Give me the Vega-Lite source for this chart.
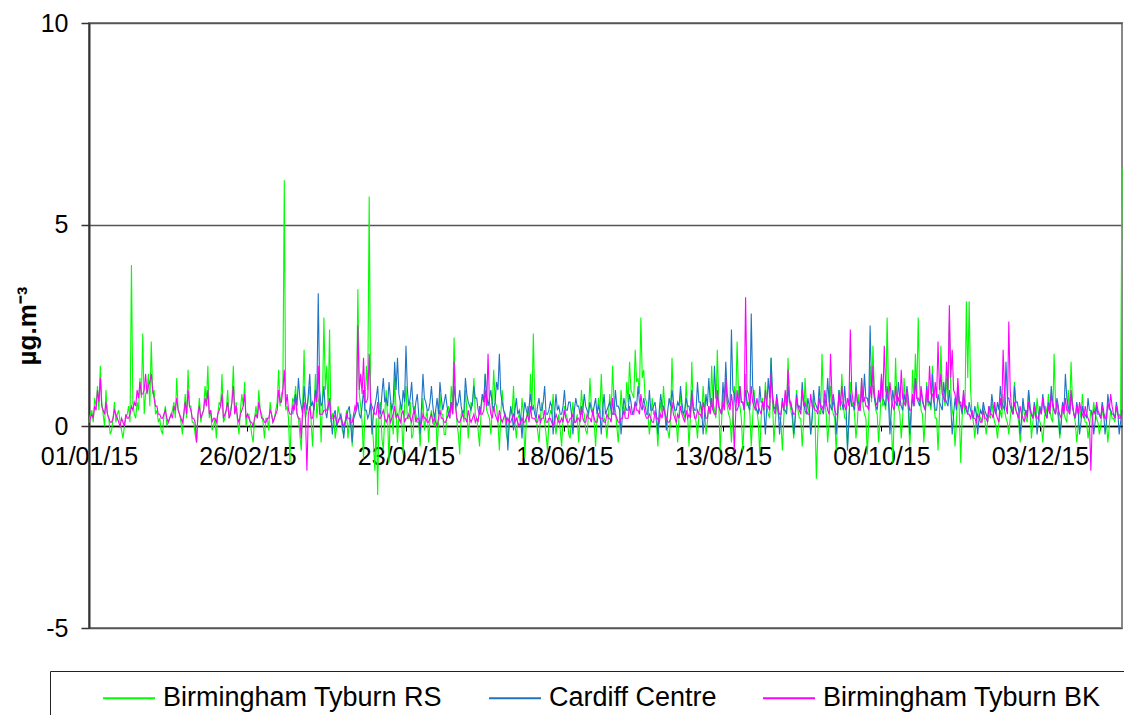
{
"$schema":"https://vega.github.io/schema/vega-lite/v6.json",
"width":1033,"height":605,
"autosize":"none",
"padding":{"left":89,"top":23,"right":2,"bottom":87},
"background":"white",
"config":{"view":{"stroke":"#888888","strokeWidth":2},"font":"Liberation Sans"},
"data":{"values":[
{"t":"2015-01-01","g":0.1,"p":0.1},{"t":"2015-01-02","g":0.4,"p":0.3},{"t":"2015-01-03","g":0.7,"p":0.5},{"t":"2015-01-04","g":1.0,"p":0.9},{"t":"2015-01-05","g":1.5,"p":1.2},{"t":"2015-01-06","g":0.3,"p":0.4},{"t":"2015-01-07","g":0.9,"p":0.6},{"t":"2015-01-08","g":0.2,"p":0.2},{"t":"2015-01-09","g":-0.1,"p":0.1},{"t":"2015-01-10","g":0.6,"p":0.4},{"t":"2015-01-11","g":0.3,"p":0.2},{"t":"2015-01-12","g":0.1,"p":0.0},{"t":"2015-01-13","g":-0.3,"p":0.1},{"t":"2015-01-14","g":0.2,"p":0.3},{"t":"2015-01-15","g":0.5,"p":0.2},{"t":"2015-01-16","g":4.0,"p":0.5},{"t":"2015-01-17","g":0.3,"p":0.6},{"t":"2015-01-18","g":0.6,"p":0.9},{"t":"2015-01-19","g":1.2,"p":1.1},{"t":"2015-01-20","g":2.3,"p":0.8},{"t":"2015-01-21","g":0.8,"p":1.3},{"t":"2015-01-22","g":1.3,"p":1.0},{"t":"2015-01-23","g":2.1,"p":1.3},{"t":"2015-01-24","g":0.9,"p":0.7},{"t":"2015-01-25","g":0.4,"p":0.5},{"t":"2015-01-26","g":0.2,"p":0.3},{"t":"2015-01-27","g":-0.2,"p":0.2},{"t":"2015-01-28","g":0.5,"p":0.4},{"t":"2015-01-29","g":0.1,"p":0.1},{"t":"2015-01-30","g":0.3,"p":0.3},{"t":"2015-01-31","g":0.6,"p":0.5},
{"t":"2015-02-01","g":1.2,"p":0.7},{"t":"2015-02-02","g":0.3,"p":0.3},{"t":"2015-02-03","g":-0.2,"p":0.1},{"t":"2015-02-04","g":0.8,"p":0.6},{"t":"2015-02-05","g":1.4,"p":0.9},{"t":"2015-02-06","g":0.5,"p":0.4},{"t":"2015-02-07","g":0.1,"p":0.2},{"t":"2015-02-08","g":-0.4,"p":-0.4},{"t":"2015-02-09","g":0.7,"p":0.5},{"t":"2015-02-10","g":0.3,"p":0.3},{"t":"2015-02-11","g":1.0,"p":0.7},{"t":"2015-02-12","g":1.5,"p":0.9},{"t":"2015-02-13","g":0.4,"p":0.4},{"t":"2015-02-14","g":0.0,"p":0.2},{"t":"2015-02-15","g":-0.3,"p":0.1},{"t":"2015-02-16","g":0.6,"p":0.4},{"t":"2015-02-17","g":1.3,"p":0.8},{"t":"2015-02-18","g":0.2,"p":0.3},{"t":"2015-02-19","g":0.9,"p":0.6},{"t":"2015-02-20","g":0.4,"p":0.3},{"t":"2015-02-21","g":1.5,"p":1.0},{"t":"2015-02-22","g":0.6,"p":0.5},{"t":"2015-02-23","g":-0.2,"p":0.1},{"t":"2015-02-24","g":0.8,"p":0.4},{"t":"2015-02-25","g":1.1,"p":0.8},{"t":"2015-02-26","g":0.3,"p":0.3},{"t":"2015-02-27","g":0.1,"p":0.1},{"t":"2015-02-28","g":-0.4,"p":0.0},
{"t":"2015-03-01","g":0.5,"p":0.3},{"t":"2015-03-02","g":0.9,"p":0.6},{"t":"2015-03-03","g":0.3,"p":0.2},{"t":"2015-03-04","g":-0.3,"p":0.1},{"t":"2015-03-05","g":0.2,"p":0.2},{"t":"2015-03-06","g":0.6,"p":0.4},{"t":"2015-03-07","g":0.1,"p":0.1},{"t":"2015-03-08","g":0.4,"p":0.3},{"t":"2015-03-09","g":1.4,"p":0.9},{"t":"2015-03-10","g":0.8,"p":0.6},{"t":"2015-03-11","g":6.1,"p":1.4},{"t":"2015-03-12","g":0.5,"p":0.8},{"t":"2015-03-13","g":-0.9,"p":0.3},{"t":"2015-03-14","g":0.7,"b":0.3,"p":0.5},{"t":"2015-03-15","g":1.0,"b":0.8,"p":0.7},{"t":"2015-03-16","g":0.2,"b":1.2,"p":0.2},{"t":"2015-03-17","g":-0.6,"b":0.5,"p":-0.3},{"t":"2015-03-18","g":1.9,"b":1.0,"p":0.6},{"t":"2015-03-19","g":0.4,"b":0.4,"p":-1.1},{"t":"2015-03-20","g":1.0,"b":1.3,"p":0.5},{"t":"2015-03-21","g":-0.5,"b":0.6,"p":0.2},{"t":"2015-03-22","g":1.3,"b":0.9,"p":0.8},{"t":"2015-03-23","g":0.6,"b":3.3,"p":1.5},{"t":"2015-03-24","g":-0.4,"b":0.5,"p":0.3},{"t":"2015-03-25","g":2.7,"b":1.0,"p":0.4},{"t":"2015-03-26","g":1.5,"b":0.2,"p":0.4},{"t":"2015-03-27","g":2.4,"b":0.6,"p":0.7},{"t":"2015-03-28","g":0.3,"b":-0.2,"p":0.2},{"t":"2015-03-29","g":-0.3,"b":0.4,"p":0.3},{"t":"2015-03-30","g":0.5,"b":0.1,"p":0.1},{"t":"2015-03-31","g":0.2,"b":0.3,"p":0.2},
{"t":"2015-04-01","g":-0.2,"b":-0.3,"p":0.0},{"t":"2015-04-02","g":0.4,"b":0.2,"p":0.3},{"t":"2015-04-03","g":0.1,"b":0.5,"p":0.2},{"t":"2015-04-04","g":-0.5,"b":-0.4,"p":0.1},{"t":"2015-04-05","g":0.3,"b":0.3,"p":0.5},{"t":"2015-04-06","g":3.4,"b":0.6,"p":2.5},{"t":"2015-04-07","g":0.5,"b":0.2,"p":1.3},{"t":"2015-04-08","g":-0.8,"b":0.9,"p":1.7},{"t":"2015-04-09","g":1.5,"b":0.4,"p":0.6},{"t":"2015-04-10","g":5.7,"b":0.3,"p":1.8},{"t":"2015-04-11","g":0.2,"b":-0.2,"p":0.5},{"t":"2015-04-12","g":-1.1,"b":0.5,"p":0.3},{"t":"2015-04-13","g":-1.7,"b":1.0,"p":0.6},{"t":"2015-04-14","g":0.6,"b":0.3,"p":0.2},{"t":"2015-04-15","g":-0.6,"b":1.2,"p":0.4},{"t":"2015-04-16","g":0.9,"b":0.7,"p":0.1},{"t":"2015-04-17","g":-0.9,"b":1.1,"p":0.3},{"t":"2015-04-18","g":0.3,"b":0.4,"p":0.2},{"t":"2015-04-19","g":1.2,"b":1.6,"p":0.5},{"t":"2015-04-20","g":-0.4,"b":1.7,"p":0.3},{"t":"2015-04-21","g":0.6,"b":0.6,"p":0.1},{"t":"2015-04-22","g":-0.7,"b":0.9,"p":0.4},{"t":"2015-04-23","g":1.0,"b":2.0,"p":0.2},{"t":"2015-04-24","g":0.2,"b":0.5,"p":0.3},{"t":"2015-04-25","g":-0.3,"b":1.1,"p":0.1},{"t":"2015-04-26","g":0.5,"b":0.3,"p":0.4},{"t":"2015-04-27","g":0.1,"b":0.8,"p":0.2},{"t":"2015-04-28","g":-0.5,"b":-0.2,"p":0.0},{"t":"2015-04-29","g":0.7,"b":1.3,"p":0.3},{"t":"2015-04-30","g":0.2,"b":0.6,"p":0.2},
{"t":"2015-05-01","g":-0.4,"b":0.4,"p":0.1},{"t":"2015-05-02","g":0.4,"b":1.0,"p":0.3},{"t":"2015-05-03","g":0.0,"b":0.2,"p":0.2},{"t":"2015-05-04","g":-0.6,"b":0.7,"p":0.0},{"t":"2015-05-05","g":0.8,"b":1.1,"p":0.4},{"t":"2015-05-06","g":0.3,"b":0.4,"p":0.2},{"t":"2015-05-07","g":-0.2,"b":0.8,"p":0.1},{"t":"2015-05-08","g":0.5,"b":0.3,"p":0.3},{"t":"2015-05-09","g":1.0,"b":0.6,"p":0.6},{"t":"2015-05-10","g":2.2,"b":1.0,"p":1.6},{"t":"2015-05-11","g":0.1,"b":0.5,"p":0.2},{"t":"2015-05-12","g":-0.7,"b":0.9,"p":0.1},{"t":"2015-05-13","g":0.4,"b":0.3,"p":0.3},{"t":"2015-05-14","g":0.9,"b":1.2,"p":0.2},{"t":"2015-05-15","g":-0.3,"b":0.6,"p":0.4},{"t":"2015-05-16","g":0.6,"b":0.4,"p":0.1},{"t":"2015-05-17","g":1.2,"b":1.0,"p":0.3},{"t":"2015-05-18","g":0.2,"b":0.7,"p":0.2},{"t":"2015-05-19","g":-0.5,"b":0.3,"p":0.5},{"t":"2015-05-20","g":0.8,"b":0.8,"p":0.3},{"t":"2015-05-21","g":1.3,"b":1.3,"p":0.9},{"t":"2015-05-22","g":0.3,"b":0.5,"p":1.8},{"t":"2015-05-23","g":-0.2,"b":0.9,"p":0.3},{"t":"2015-05-24","g":1.4,"b":0.4,"p":0.5},{"t":"2015-05-25","g":0.5,"b":1.1,"p":0.2},{"t":"2015-05-26","g":-0.6,"b":1.8,"p":0.4},{"t":"2015-05-27","g":0.9,"b":0.6,"p":0.1},{"t":"2015-05-28","g":0.2,"b":0.3,"p":0.3},{"t":"2015-05-29","g":-0.4,"b":-0.6,"p":0.2},{"t":"2015-05-30","g":0.4,"b":0.5,"p":0.1},{"t":"2015-05-31","g":1.0,"b":-0.1,"p":0.3},
{"t":"2015-06-01","g":-0.3,"b":0.7,"p":0.2},{"t":"2015-06-02","g":0.3,"b":0.4,"p":0.0},{"t":"2015-06-03","g":0.7,"b":-0.3,"p":0.2},{"t":"2015-06-04","g":-0.8,"b":0.6,"p":0.1},{"t":"2015-06-05","g":0.5,"b":0.3,"p":0.3},{"t":"2015-06-06","g":1.3,"b":0.8,"p":0.5},{"t":"2015-06-07","g":2.3,"b":0.5,"p":0.2},{"t":"2015-06-08","g":0.2,"b":0.2,"p":0.1},{"t":"2015-06-09","g":-0.4,"b":0.7,"p":0.3},{"t":"2015-06-10","g":0.6,"b":0.4,"p":0.2},{"t":"2015-06-11","g":0.1,"b":1.0,"p":0.4},{"t":"2015-06-12","g":-0.6,"b":0.3,"p":0.1},{"t":"2015-06-13","g":0.4,"b":0.6,"p":0.2},{"t":"2015-06-14","g":0.8,"b":-0.2,"p":0.0},{"t":"2015-06-15","g":-0.2,"b":0.8,"p":0.3},{"t":"2015-06-16","g":0.3,"b":0.5,"p":0.1},{"t":"2015-06-17","g":-0.5,"b":0.3,"p":0.2},{"t":"2015-06-18","g":0.5,"b":0.9,"p":0.4},{"t":"2015-06-19","g":0.2,"b":0.4,"p":0.1},{"t":"2015-06-20","g":-0.3,"b":0.6,"p":0.2},{"t":"2015-06-21","g":0.6,"b":-0.2,"p":0.3},{"t":"2015-06-22","g":0.1,"b":0.7,"p":0.1},{"t":"2015-06-23","g":-0.4,"b":0.5,"p":0.2},{"t":"2015-06-24","g":0.9,"b":0.3,"p":0.5},{"t":"2015-06-25","g":0.3,"b":0.8,"p":0.1},{"t":"2015-06-26","g":-0.2,"b":0.4,"p":0.3},{"t":"2015-06-27","g":1.2,"b":0.6,"p":0.2},{"t":"2015-06-28","g":0.4,"b":0.3,"p":0.4},{"t":"2015-06-29","g":-0.5,"b":0.7,"p":0.1},{"t":"2015-06-30","g":0.7,"b":0.5,"p":0.3},
{"t":"2015-07-01","g":1.3,"b":-0.2,"p":0.2},{"t":"2015-07-02","g":0.2,"b":0.8,"p":0.1},{"t":"2015-07-03","g":-0.3,"b":0.4,"p":0.3},{"t":"2015-07-04","g":0.8,"b":0.6,"p":0.2},{"t":"2015-07-05","g":1.5,"b":0.3,"p":0.7},{"t":"2015-07-06","g":0.4,"b":0.9,"p":0.3},{"t":"2015-07-07","g":-0.4,"b":0.5,"p":0.1},{"t":"2015-07-08","g":0.9,"b":-0.2,"p":0.2},{"t":"2015-07-09","g":0.5,"b":0.7,"p":0.4},{"t":"2015-07-10","g":1.1,"b":0.4,"p":0.2},{"t":"2015-07-11","g":1.6,"b":0.8,"p":0.5},{"t":"2015-07-12","g":0.8,"b":0.3,"p":0.3},{"t":"2015-07-13","g":1.9,"b":0.6,"p":0.6},{"t":"2015-07-14","g":1.2,"b":1.0,"p":0.4},{"t":"2015-07-15","g":2.7,"b":0.5,"p":0.8},{"t":"2015-07-16","g":1.4,"b":0.7,"p":0.5},{"t":"2015-07-17","g":0.6,"b":0.3,"p":0.2},{"t":"2015-07-18","g":-0.2,"b":0.9,"p":0.3},{"t":"2015-07-19","g":0.7,"b":0.4,"p":0.1},{"t":"2015-07-20","g":0.3,"b":0.6,"p":0.4},{"t":"2015-07-21","g":-0.5,"b":-0.2,"p":0.2},{"t":"2015-07-22","g":0.6,"b":0.8,"p":0.3},{"t":"2015-07-23","g":1.0,"b":0.5,"p":0.5},{"t":"2015-07-24","g":0.2,"b":-0.1,"p":0.2},{"t":"2015-07-25","g":-0.3,"b":0.7,"p":0.1},{"t":"2015-07-26","g":1.7,"b":0.9,"p":0.6},{"t":"2015-07-27","g":0.4,"b":0.4,"p":0.2},{"t":"2015-07-28","g":-0.4,"b":0.6,"p":0.3},{"t":"2015-07-29","g":0.8,"b":1.0,"p":0.5},{"t":"2015-07-30","g":0.3,"b":0.3,"p":0.2},{"t":"2015-07-31","g":1.1,"b":0.7,"p":0.4},
{"t":"2015-08-01","g":-0.5,"b":0.5,"p":0.3},{"t":"2015-08-02","g":1.6,"b":0.9,"p":0.8},{"t":"2015-08-03","g":0.3,"b":0.4,"p":0.2},{"t":"2015-08-04","g":-0.3,"b":1.1,"p":0.4},{"t":"2015-08-05","g":0.6,"b":0.6,"p":0.3},{"t":"2015-08-06","g":1.0,"b":-0.2,"p":0.6},{"t":"2015-08-07","g":-0.2,"b":0.8,"p":0.2},{"t":"2015-08-08","g":0.5,"b":1.2,"p":0.5},{"t":"2015-08-09","g":1.5,"b":0.5,"p":0.7},{"t":"2015-08-10","g":0.4,"b":1.5,"p":0.3},{"t":"2015-08-11","g":1.9,"b":0.7,"p":0.9},{"t":"2015-08-12","g":-0.6,"b":0.4,"p":0.4},{"t":"2015-08-13","g":0.8,"b":1.1,"p":0.6},{"t":"2015-08-14","g":1.2,"b":1.6,"p":1.2},{"t":"2015-08-15","g":0.3,"b":0.6,"p":0.5},{"t":"2015-08-16","g":-0.4,"b":2.4,"p":0.8},{"t":"2015-08-17","g":1.0,"b":0.8,"p":-0.6},{"t":"2015-08-18","g":2.1,"b":0.4,"p":0.9},{"t":"2015-08-19","g":0.5,"b":1.0,"p":1.0},{"t":"2015-08-20","g":-0.6,"b":0.6,"p":0.6},{"t":"2015-08-21","g":1.3,"b":0.9,"p":3.2},{"t":"2015-08-22","g":0.6,"b":0.5,"p":0.8},{"t":"2015-08-23","g":-0.5,"b":2.8,"p":1.0},{"t":"2015-08-24","g":0.9,"b":0.7,"p":0.5},{"t":"2015-08-25","g":0.4,"b":0.4,"p":0.7},{"t":"2015-08-26","g":-0.7,"b":1.0,"p":0.4},{"t":"2015-08-27","g":0.7,"b":0.6,"p":0.6},{"t":"2015-08-28","g":1.1,"b":-0.2,"p":0.9},{"t":"2015-08-29","g":0.3,"b":1.2,"p":0.5},{"t":"2015-08-30","g":1.7,"b":1.7,"p":1.3},{"t":"2015-08-31","g":-0.4,"b":0.5,"p":0.4},
{"t":"2015-09-01","g":0.6,"b":0.8,"p":0.7},{"t":"2015-09-02","g":0.2,"b":-0.2,"p":0.3},{"t":"2015-09-03","g":-0.6,"b":0.7,"p":0.6},{"t":"2015-09-04","g":0.8,"b":0.4,"p":0.9},{"t":"2015-09-05","g":1.7,"b":1.0,"p":1.4},{"t":"2015-09-06","g":0.4,"b":0.6,"p":0.5},{"t":"2015-09-07","g":-0.3,"b":-0.2,"p":0.3},{"t":"2015-09-08","g":0.9,"b":0.8,"p":0.7},{"t":"2015-09-09","g":0.2,"b":0.5,"p":0.4},{"t":"2015-09-10","g":-0.5,"b":1.1,"p":0.9},{"t":"2015-09-11","g":1.2,"b":0.4,"p":0.6},{"t":"2015-09-12","g":0.5,"b":0.7,"p":0.3},{"t":"2015-09-13","g":-0.2,"b":-0.2,"p":0.8},{"t":"2015-09-14","g":0.7,"b":0.9,"p":0.5},{"t":"2015-09-15","g":-1.3,"b":0.5,"p":0.4},{"t":"2015-09-16","g":0.4,"b":1.0,"p":0.7},{"t":"2015-09-17","g":1.8,"b":0.4,"p":0.5},{"t":"2015-09-18","g":0.6,"b":0.7,"p":0.9},{"t":"2015-09-19","g":-0.4,"b":1.2,"p":0.4},{"t":"2015-09-20","g":1.0,"b":0.5,"p":1.8},{"t":"2015-09-21","g":0.3,"b":0.8,"p":0.6},{"t":"2015-09-22","g":-0.6,"b":-0.2,"p":0.3},{"t":"2015-09-23","g":0.9,"b":0.9,"p":0.8},{"t":"2015-09-24","g":1.3,"b":0.6,"p":1.0},{"t":"2015-09-25","g":0.2,"b":1.0,"p":0.5},{"t":"2015-09-26","g":-0.5,"b":-0.6,"p":0.7},{"t":"2015-09-27","g":1.1,"b":0.8,"p":2.4},{"t":"2015-09-28","g":0.6,"b":0.5,"p":0.6},{"t":"2015-09-29","g":-0.3,"b":1.1,"p":0.9},{"t":"2015-09-30","g":0.8,"b":0.6,"p":0.4},
{"t":"2015-10-01","g":1.2,"b":0.9,"p":1.2},{"t":"2015-10-02","g":0.3,"b":1.3,"p":0.7},{"t":"2015-10-03","g":-0.7,"b":0.7,"p":0.5},{"t":"2015-10-04","g":1.5,"b":2.5,"p":1.0},{"t":"2015-10-05","g":2.0,"b":1.0,"p":1.5},{"t":"2015-10-06","g":0.4,"b":0.5,"p":0.6},{"t":"2015-10-07","g":-0.4,"b":0.8,"p":0.9},{"t":"2015-10-08","g":1.0,"b":1.2,"p":1.3},{"t":"2015-10-09","g":0.6,"b":0.6,"p":2.0},{"t":"2015-10-10","g":2.7,"b":1.0,"p":0.8},{"t":"2015-10-11","g":0.2,"b":-0.2,"p":1.1},{"t":"2015-10-12","g":-0.9,"b":0.9,"p":0.5},{"t":"2015-10-13","g":1.7,"b":0.6,"p":1.0},{"t":"2015-10-14","g":0.5,"b":1.1,"p":0.7},{"t":"2015-10-15","g":-0.3,"b":0.5,"p":1.4},{"t":"2015-10-16","g":1.2,"b":0.8,"p":0.6},{"t":"2015-10-17","g":0.7,"b":1.0,"p":0.9},{"t":"2015-10-18","g":-0.5,"b":-0.2,"p":0.4},{"t":"2015-10-19","g":1.4,"b":0.7,"p":0.8},{"t":"2015-10-20","g":1.8,"b":1.2,"p":1.2},{"t":"2015-10-21","g":2.7,"b":0.6,"p":0.7},{"t":"2015-10-22","g":0.4,"b":0.9,"p":1.0},{"t":"2015-10-23","g":-0.4,"b":0.5,"p":0.5},{"t":"2015-10-24","g":1.1,"b":1.0,"p":0.9},{"t":"2015-10-25","g":0.6,"b":0.6,"p":1.5},{"t":"2015-10-26","g":1.5,"b":1.3,"p":0.8},{"t":"2015-10-27","g":0.2,"b":0.4,"p":1.1},{"t":"2015-10-28","g":-0.6,"b":0.8,"p":2.1},{"t":"2015-10-29","g":2.0,"b":0.5,"p":1.3},{"t":"2015-10-30","g":0.8,"b":1.1,"p":0.7},{"t":"2015-10-31","g":1.2,"b":0.6,"p":1.6},
{"t":"2015-11-01","g":2.6,"b":0.9,"p":3.0},{"t":"2015-11-02","g":0.4,"b":-0.2,"p":1.9},{"t":"2015-11-03","g":-0.5,"b":0.7,"p":0.8},{"t":"2015-11-04","g":1.0,"b":1.0,"p":1.2},{"t":"2015-11-05","g":-0.9,"b":0.5,"p":0.6},{"t":"2015-11-06","g":0.7,"b":0.8,"p":0.9},{"t":"2015-11-07","g":3.1,"b":0.4,"p":0.5},{"t":"2015-11-08","g":3.1,"b":0.6,"p":0.3},{"t":"2015-11-09","g":0.3,"b":0.3,"p":0.4},{"t":"2015-11-10","g":-0.3,"b":0.5,"p":0.2},{"t":"2015-11-11","g":0.6,"b":-0.2,"p":0.3},{"t":"2015-11-12","g":0.2,"b":0.4,"p":0.1},{"t":"2015-11-13","g":0.5,"b":0.6,"p":0.4},{"t":"2015-11-14","g":-0.2,"b":0.3,"p":0.2},{"t":"2015-11-15","g":0.3,"b":0.5,"p":0.5},{"t":"2015-11-16","g":0.6,"b":0.8,"p":0.3},{"t":"2015-11-17","g":0.1,"b":0.4,"p":0.6},{"t":"2015-11-18","g":-0.3,"b":0.6,"p":0.2},{"t":"2015-11-19","g":0.4,"b":1.0,"p":0.7},{"t":"2015-11-20","g":0.8,"b":0.5,"p":1.9},{"t":"2015-11-21","g":0.2,"b":1.6,"p":0.5},{"t":"2015-11-22","g":-0.2,"b":0.7,"p":2.6},{"t":"2015-11-23","g":0.5,"b":0.4,"p":0.4},{"t":"2015-11-24","g":1.1,"b":1.0,"p":0.6},{"t":"2015-11-25","g":0.3,"b":0.6,"p":0.3},{"t":"2015-11-26","g":-0.4,"b":-0.2,"p":0.5},{"t":"2015-11-27","g":0.6,"b":0.7,"p":0.2},{"t":"2015-11-28","g":0.2,"b":0.4,"p":0.4},{"t":"2015-11-29","g":0.9,"b":0.9,"p":0.6},{"t":"2015-11-30","g":-0.3,"b":0.3,"p":0.3},
{"t":"2015-12-01","g":0.4,"b":0.6,"p":0.5},{"t":"2015-12-02","g":0.7,"b":-0.2,"p":0.2},{"t":"2015-12-03","g":0.1,"b":0.5,"p":0.4},{"t":"2015-12-04","g":-0.4,"b":0.8,"p":0.7},{"t":"2015-12-05","g":0.5,"b":0.3,"p":0.3},{"t":"2015-12-06","g":0.8,"b":0.6,"p":0.5},{"t":"2015-12-07","g":0.2,"b":1.0,"p":0.8},{"t":"2015-12-08","g":1.8,"b":0.4,"p":0.4},{"t":"2015-12-09","g":0.4,"b":0.7,"p":0.6},{"t":"2015-12-10","g":-0.3,"b":-0.2,"p":0.3},{"t":"2015-12-11","g":0.6,"b":0.6,"p":0.5},{"t":"2015-12-12","g":0.2,"b":1.3,"p":0.7},{"t":"2015-12-13","g":0.9,"b":0.5,"p":0.4},{"t":"2015-12-14","g":1.6,"b":0.8,"p":0.9},{"t":"2015-12-15","g":0.3,"b":0.3,"p":0.3},{"t":"2015-12-16","g":-0.4,"b":0.6,"p":0.5},{"t":"2015-12-17","g":0.5,"b":-0.2,"p":0.6},{"t":"2015-12-18","g":0.8,"b":0.5,"p":0.3},{"t":"2015-12-19","g":0.1,"b":0.3,"p":0.5},{"t":"2015-12-20","g":-0.3,"b":0.7,"p":0.2},{"t":"2015-12-21","g":0.4,"b":0.4,"p":-1.1},{"t":"2015-12-22","g":0.6,"b":-0.2,"p":0.4},{"t":"2015-12-23","g":0.2,"b":0.5,"p":0.6},{"t":"2015-12-24","g":-0.2,"b":0.3,"p":0.3},{"t":"2015-12-25","g":0.5,"b":0.6,"p":0.5},{"t":"2015-12-26","g":0.3,"b":-0.2,"p":0.2},{"t":"2015-12-27","g":-0.4,"b":0.8,"p":0.6},{"t":"2015-12-28","g":0.4,"b":0.4,"p":0.8},{"t":"2015-12-29","g":0.2,"b":0.3,"p":0.3},{"t":"2015-12-30","g":0.5,"b":0.6,"p":0.5},{"t":"2015-12-31","g":0.3,"b":-0.2,"p":0.2},
{"t":"2016-01-01","g":6.4,"b":0.4,"p":0.4},
{"t":"2015-01-01T12:00:00Z","g":0.3,"p":0.2},{"t":"2015-01-02T12:00:00Z","g":0.1,"p":0.2},{"t":"2015-01-03T12:00:00Z","g":0.5,"p":0.4},{"t":"2015-01-04T12:00:00Z","g":0.4,"p":0.6},{"t":"2015-01-05T12:00:00Z","g":0.6,"p":0.5},{"t":"2015-01-06T12:00:00Z","g":0.0,"p":0.3},{"t":"2015-01-07T12:00:00Z","g":0.3,"p":0.3},{"t":"2015-01-08T12:00:00Z","g":-0.2,"p":0.1},{"t":"2015-01-09T12:00:00Z","g":0.2,"p":0.2},{"t":"2015-01-10T12:00:00Z","g":0.1,"p":0.3},{"t":"2015-01-11T12:00:00Z","g":0.4,"p":0.1},{"t":"2015-01-12T12:00:00Z","g":-0.1,"p":0.2},{"t":"2015-01-13T12:00:00Z","g":0.0,"p":0.0},{"t":"2015-01-14T12:00:00Z","g":0.3,"p":0.2},{"t":"2015-01-15T12:00:00Z","g":0.1,"p":0.3},{"t":"2015-01-16T12:00:00Z","g":0.6,"p":0.4},{"t":"2015-01-17T12:00:00Z","g":0.2,"p":0.5},{"t":"2015-01-18T12:00:00Z","g":0.4,"p":0.7},{"t":"2015-01-19T12:00:00Z","g":0.7,"p":0.8},{"t":"2015-01-20T12:00:00Z","g":0.3,"p":0.9},{"t":"2015-01-21T12:00:00Z","g":0.9,"p":0.8},{"t":"2015-01-22T12:00:00Z","g":0.5,"p":1.1},{"t":"2015-01-23T12:00:00Z","g":0.8,"p":0.9},{"t":"2015-01-24T12:00:00Z","g":0.3,"p":0.5},{"t":"2015-01-25T12:00:00Z","g":0.1,"p":0.3},{"t":"2015-01-26T12:00:00Z","g":-0.1,"p":0.2},{"t":"2015-01-27T12:00:00Z","g":0.3,"p":0.3},{"t":"2015-01-28T12:00:00Z","g":0.0,"p":0.2},{"t":"2015-01-29T12:00:00Z","g":0.2,"p":0.2},{"t":"2015-01-30T12:00:00Z","g":0.4,"p":0.2},{"t":"2015-01-31T12:00:00Z","g":0.2,"p":0.4},
{"t":"2015-02-01T12:00:00Z","g":0.4,"p":0.4},{"t":"2015-02-02T12:00:00Z","g":0.1,"p":0.2},{"t":"2015-02-03T12:00:00Z","g":0.3,"p":0.3},{"t":"2015-02-04T12:00:00Z","g":0.2,"p":0.3},{"t":"2015-02-05T12:00:00Z","g":0.5,"p":0.5},{"t":"2015-02-06T12:00:00Z","g":0.1,"p":0.2},{"t":"2015-02-07T12:00:00Z","g":-0.2,"p":0.1},{"t":"2015-02-08T12:00:00Z","g":0.3,"p":0.3},{"t":"2015-02-09T12:00:00Z","g":0.1,"p":0.2},{"t":"2015-02-10T12:00:00Z","g":0.4,"p":0.4},{"t":"2015-02-11T12:00:00Z","g":0.6,"p":0.5},{"t":"2015-02-12T12:00:00Z","g":0.2,"p":0.3},{"t":"2015-02-13T12:00:00Z","g":-0.1,"p":0.1},{"t":"2015-02-14T12:00:00Z","g":0.2,"p":0.2},{"t":"2015-02-15T12:00:00Z","g":0.3,"p":0.3},{"t":"2015-02-16T12:00:00Z","g":0.5,"p":0.5},{"t":"2015-02-17T12:00:00Z","g":0.1,"p":0.2},{"t":"2015-02-18T12:00:00Z","g":0.4,"p":0.4},{"t":"2015-02-19T12:00:00Z","g":0.2,"p":0.2},{"t":"2015-02-20T12:00:00Z","g":0.6,"p":0.6},{"t":"2015-02-21T12:00:00Z","g":0.3,"p":0.3},{"t":"2015-02-22T12:00:00Z","g":0.1,"p":0.2},{"t":"2015-02-23T12:00:00Z","g":0.4,"p":0.3},{"t":"2015-02-24T12:00:00Z","g":0.5,"p":0.5},{"t":"2015-02-25T12:00:00Z","g":0.0,"p":0.2},{"t":"2015-02-26T12:00:00Z","g":0.3,"p":0.2},{"t":"2015-02-27T12:00:00Z","g":-0.2,"p":0.1},{"t":"2015-02-28T12:00:00Z","g":0.2,"p":0.2},
{"t":"2015-03-01T12:00:00Z","g":0.2,"p":0.2},{"t":"2015-03-02T12:00:00Z","g":0.4,"p":0.4},{"t":"2015-03-03T12:00:00Z","g":0.1,"p":0.2},{"t":"2015-03-04T12:00:00Z","g":0.2,"p":0.1},{"t":"2015-03-05T12:00:00Z","g":-0.1,"p":0.2},{"t":"2015-03-06T12:00:00Z","g":0.3,"p":0.3},{"t":"2015-03-07T12:00:00Z","g":0.2,"p":0.2},{"t":"2015-03-08T12:00:00Z","g":0.6,"p":0.4},{"t":"2015-03-09T12:00:00Z","g":0.5,"p":0.6},{"t":"2015-03-10T12:00:00Z","g":0.9,"p":0.9},{"t":"2015-03-11T12:00:00Z","g":0.4,"p":0.5},{"t":"2015-03-12T12:00:00Z","g":0.2,"p":0.4},{"t":"2015-03-13T12:00:00Z","g":0.3,"p":0.3},{"t":"2015-03-14T12:00:00Z","g":0.6,"b":0.6,"p":0.4},{"t":"2015-03-15T12:00:00Z","g":0.3,"b":0.5,"p":0.3},{"t":"2015-03-16T12:00:00Z","g":-0.2,"b":0.7,"p":0.2},{"t":"2015-03-17T12:00:00Z","g":0.5,"b":0.3,"p":0.4},{"t":"2015-03-18T12:00:00Z","g":0.2,"b":0.6,"p":0.2},{"t":"2015-03-19T12:00:00Z","g":0.7,"b":0.8,"p":0.3},{"t":"2015-03-20T12:00:00Z","g":0.1,"b":0.5,"p":0.2},{"t":"2015-03-21T12:00:00Z","g":0.4,"b":0.4,"p":0.5},{"t":"2015-03-22T12:00:00Z","g":0.2,"b":0.7,"p":0.6},{"t":"2015-03-23T12:00:00Z","g":0.8,"b":0.9,"p":0.3},{"t":"2015-03-24T12:00:00Z","g":0.6,"b":0.6,"p":0.3},{"t":"2015-03-25T12:00:00Z","g":0.9,"b":0.4,"p":0.4},{"t":"2015-03-26T12:00:00Z","g":0.4,"b":0.5,"p":0.5},{"t":"2015-03-27T12:00:00Z","g":0.1,"b":0.2,"p":0.2},{"t":"2015-03-28T12:00:00Z","g":0.2,"b":0.3,"p":0.2},{"t":"2015-03-29T12:00:00Z","g":0.0,"b":0.0,"p":0.1},{"t":"2015-03-30T12:00:00Z","g":0.3,"b":0.2,"p":0.2},{"t":"2015-03-31T12:00:00Z","g":-0.1,"b":0.1,"p":0.1},
{"t":"2015-04-01T12:00:00Z","g":0.1,"b":0.1,"p":0.1},{"t":"2015-04-02T12:00:00Z","g":-0.3,"b":0.4,"p":0.2},{"t":"2015-04-03T12:00:00Z","g":0.3,"b":0.0,"p":0.1},{"t":"2015-04-04T12:00:00Z","g":0.2,"b":0.2,"p":0.3},{"t":"2015-04-05T12:00:00Z","g":0.6,"b":0.4,"p":0.4},{"t":"2015-04-06T12:00:00Z","g":0.8,"b":0.3,"p":0.9},{"t":"2015-04-07T12:00:00Z","g":0.1,"b":0.5,"p":0.8},{"t":"2015-04-08T12:00:00Z","g":0.4,"b":0.4,"p":0.6},{"t":"2015-04-09T12:00:00Z","g":0.9,"b":0.2,"p":0.7},{"t":"2015-04-10T12:00:00Z","g":0.7,"b":0.6,"p":0.6},{"t":"2015-04-11T12:00:00Z","g":-0.4,"b":0.3,"p":0.4},{"t":"2015-04-12T12:00:00Z","g":0.2,"b":0.7,"p":0.3},{"t":"2015-04-13T12:00:00Z","g":0.5,"b":0.4,"p":0.2},{"t":"2015-04-14T12:00:00Z","g":-0.3,"b":0.8,"p":0.3},{"t":"2015-04-15T12:00:00Z","g":0.3,"b":0.6,"p":0.2},{"t":"2015-04-16T12:00:00Z","g":0.2,"b":0.5,"p":0.2},{"t":"2015-04-17T12:00:00Z","g":0.6,"b":0.7,"p":0.1},{"t":"2015-04-18T12:00:00Z","g":-0.2,"b":0.6,"p":0.3},{"t":"2015-04-19T12:00:00Z","g":0.4,"b":0.9,"p":0.2},{"t":"2015-04-20T12:00:00Z","g":0.3,"b":0.8,"p":0.2},{"t":"2015-04-21T12:00:00Z","g":0.1,"b":0.4,"p":0.3},{"t":"2015-04-22T12:00:00Z","g":0.5,"b":0.6,"p":0.1},{"t":"2015-04-23T12:00:00Z","g":0.2,"b":0.9,"p":0.2},{"t":"2015-04-24T12:00:00Z","g":0.6,"b":0.7,"p":0.2},{"t":"2015-04-25T12:00:00Z","g":-0.2,"b":0.5,"p":0.3},{"t":"2015-04-26T12:00:00Z","g":0.3,"b":0.6,"p":0.1},{"t":"2015-04-27T12:00:00Z","g":0.1,"b":0.3,"p":0.2},{"t":"2015-04-28T12:00:00Z","g":0.2,"b":0.5,"p":0.1},{"t":"2015-04-29T12:00:00Z","g":-0.1,"b":0.7,"p":0.2},{"t":"2015-04-30T12:00:00Z","g":0.4,"b":0.4,"p":0.1},
{"t":"2015-05-01T12:00:00Z","g":0.2,"b":0.6,"p":0.2},{"t":"2015-05-02T12:00:00Z","g":0.1,"b":0.5,"p":0.1},{"t":"2015-05-03T12:00:00Z","g":0.4,"b":0.4,"p":0.1},{"t":"2015-05-04T12:00:00Z","g":0.1,"b":0.3,"p":0.2},{"t":"2015-05-05T12:00:00Z","g":0.3,"b":0.7,"p":0.2},{"t":"2015-05-06T12:00:00Z","g":-0.2,"b":0.6,"p":0.1},{"t":"2015-05-07T12:00:00Z","g":0.4,"b":0.5,"p":0.2},{"t":"2015-05-08T12:00:00Z","g":0.2,"b":0.4,"p":0.2},{"t":"2015-05-09T12:00:00Z","g":0.5,"b":0.3,"p":0.3},{"t":"2015-05-10T12:00:00Z","g":0.6,"b":0.7,"p":0.5},{"t":"2015-05-11T12:00:00Z","g":-0.2,"b":0.6,"p":0.1},{"t":"2015-05-12T12:00:00Z","g":0.3,"b":0.5,"p":0.2},{"t":"2015-05-13T12:00:00Z","g":0.1,"b":0.4,"p":0.2},{"t":"2015-05-14T12:00:00Z","g":0.4,"b":0.8,"p":0.1},{"t":"2015-05-15T12:00:00Z","g":0.2,"b":0.5,"p":0.2},{"t":"2015-05-16T12:00:00Z","g":0.5,"b":0.6,"p":0.2},{"t":"2015-05-17T12:00:00Z","g":0.3,"b":0.7,"p":0.1},{"t":"2015-05-18T12:00:00Z","g":-0.1,"b":0.4,"p":0.1},{"t":"2015-05-19T12:00:00Z","g":0.3,"b":0.5,"p":0.3},{"t":"2015-05-20T12:00:00Z","g":0.6,"b":0.6,"p":0.4},{"t":"2015-05-21T12:00:00Z","g":0.4,"b":0.8,"p":0.5},{"t":"2015-05-22T12:00:00Z","g":0.2,"b":0.7,"p":0.6},{"t":"2015-05-23T12:00:00Z","g":0.5,"b":0.5,"p":0.2},{"t":"2015-05-24T12:00:00Z","g":0.6,"b":0.6,"p":0.3},{"t":"2015-05-25T12:00:00Z","g":0.1,"b":0.9,"p":0.1},{"t":"2015-05-26T12:00:00Z","g":0.3,"b":0.8,"p":0.2},{"t":"2015-05-27T12:00:00Z","g":0.4,"b":0.4,"p":0.2},{"t":"2015-05-28T12:00:00Z","g":-0.2,"b":0.2,"p":0.1},{"t":"2015-05-29T12:00:00Z","g":0.2,"b":0.1,"p":0.1},{"t":"2015-05-30T12:00:00Z","g":0.3,"b":0.3,"p":0.2},{"t":"2015-05-31T12:00:00Z","g":0.1,"b":0.4,"p":0.1},
{"t":"2015-06-01T12:00:00Z","g":0.2,"b":0.3,"p":0.1},{"t":"2015-06-02T12:00:00Z","g":0.0,"b":0.2,"p":0.1},{"t":"2015-06-03T12:00:00Z","g":0.3,"b":0.3,"p":0.1},{"t":"2015-06-04T12:00:00Z","g":0.1,"b":0.4,"p":0.2},{"t":"2015-06-05T12:00:00Z","g":0.2,"b":0.5,"p":0.1},{"t":"2015-06-06T12:00:00Z","g":0.4,"b":0.4,"p":0.2},{"t":"2015-06-07T12:00:00Z","g":0.6,"b":0.3,"p":0.2},{"t":"2015-06-08T12:00:00Z","g":-0.1,"b":0.5,"p":0.1},{"t":"2015-06-09T12:00:00Z","g":0.2,"b":0.4,"p":0.1},{"t":"2015-06-10T12:00:00Z","g":0.3,"b":0.6,"p":0.2},{"t":"2015-06-11T12:00:00Z","g":-0.2,"b":0.3,"p":0.1},{"t":"2015-06-12T12:00:00Z","g":0.1,"b":0.4,"p":0.2},{"t":"2015-06-13T12:00:00Z","g":0.3,"b":0.5,"p":0.1},{"t":"2015-06-14T12:00:00Z","g":0.2,"b":0.3,"p":0.1},{"t":"2015-06-15T12:00:00Z","g":0.1,"b":0.4,"p":0.2},{"t":"2015-06-16T12:00:00Z","g":-0.1,"b":0.3,"p":0.1},{"t":"2015-06-17T12:00:00Z","g":0.2,"b":0.5,"p":0.1},{"t":"2015-06-18T12:00:00Z","g":0.3,"b":0.4,"p":0.2},{"t":"2015-06-19T12:00:00Z","g":-0.2,"b":0.6,"p":0.1},{"t":"2015-06-20T12:00:00Z","g":0.2,"b":0.3,"p":0.2},{"t":"2015-06-21T12:00:00Z","g":0.1,"b":0.4,"p":0.1},{"t":"2015-06-22T12:00:00Z","g":0.3,"b":0.5,"p":0.2},{"t":"2015-06-23T12:00:00Z","g":0.2,"b":0.3,"p":0.1},{"t":"2015-06-24T12:00:00Z","g":0.4,"b":0.4,"p":0.2},{"t":"2015-06-25T12:00:00Z","g":-0.1,"b":0.5,"p":0.1},{"t":"2015-06-26T12:00:00Z","g":0.3,"b":0.3,"p":0.2},{"t":"2015-06-27T12:00:00Z","g":0.5,"b":0.4,"p":0.1},{"t":"2015-06-28T12:00:00Z","g":0.1,"b":0.5,"p":0.2},{"t":"2015-06-29T12:00:00Z","g":0.2,"b":0.3,"p":0.1},{"t":"2015-06-30T12:00:00Z","g":0.3,"b":0.4,"p":0.2},
{"t":"2015-07-01T12:00:00Z","g":0.5,"b":0.4,"p":0.2},{"t":"2015-07-02T12:00:00Z","g":0.1,"b":0.3,"p":0.1},{"t":"2015-07-03T12:00:00Z","g":0.2,"b":0.5,"p":0.2},{"t":"2015-07-04T12:00:00Z","g":0.3,"b":0.4,"p":0.1},{"t":"2015-07-05T12:00:00Z","g":0.6,"b":0.3,"p":0.3},{"t":"2015-07-06T12:00:00Z","g":0.0,"b":0.5,"p":0.2},{"t":"2015-07-07T12:00:00Z","g":0.2,"b":0.4,"p":0.1},{"t":"2015-07-08T12:00:00Z","g":0.4,"b":0.3,"p":0.2},{"t":"2015-07-09T12:00:00Z","g":0.3,"b":0.5,"p":0.2},{"t":"2015-07-10T12:00:00Z","g":0.6,"b":0.4,"p":0.2},{"t":"2015-07-11T12:00:00Z","g":0.9,"b":0.6,"p":0.3},{"t":"2015-07-12T12:00:00Z","g":0.7,"b":0.4,"p":0.3},{"t":"2015-07-13T12:00:00Z","g":1.1,"b":0.5,"p":0.4},{"t":"2015-07-14T12:00:00Z","g":0.8,"b":0.6,"p":0.3},{"t":"2015-07-15T12:00:00Z","g":1.2,"b":0.4,"p":0.5},{"t":"2015-07-16T12:00:00Z","g":0.7,"b":0.5,"p":0.3},{"t":"2015-07-17T12:00:00Z","g":0.3,"b":0.3,"p":0.2},{"t":"2015-07-18T12:00:00Z","g":0.2,"b":0.4,"p":0.2},{"t":"2015-07-19T12:00:00Z","g":0.3,"b":0.5,"p":0.1},{"t":"2015-07-20T12:00:00Z","g":0.1,"b":0.3,"p":0.2},{"t":"2015-07-21T12:00:00Z","g":0.2,"b":0.4,"p":0.1},{"t":"2015-07-22T12:00:00Z","g":0.3,"b":0.5,"p":0.2},{"t":"2015-07-23T12:00:00Z","g":0.4,"b":0.3,"p":0.3},{"t":"2015-07-24T12:00:00Z","g":-0.1,"b":0.4,"p":0.1},{"t":"2015-07-25T12:00:00Z","g":0.2,"b":0.5,"p":0.2},{"t":"2015-07-26T12:00:00Z","g":0.5,"b":0.6,"p":0.3},{"t":"2015-07-27T12:00:00Z","g":0.1,"b":0.4,"p":0.1},{"t":"2015-07-28T12:00:00Z","g":0.3,"b":0.5,"p":0.2},{"t":"2015-07-29T12:00:00Z","g":0.4,"b":0.6,"p":0.3},{"t":"2015-07-30T12:00:00Z","g":0.2,"b":0.4,"p":0.1},{"t":"2015-07-31T12:00:00Z","g":0.3,"b":0.5,"p":0.2},
{"t":"2015-08-01T12:00:00Z","g":0.2,"b":0.3,"p":0.2},{"t":"2015-08-02T12:00:00Z","g":0.4,"b":0.5,"p":0.4},{"t":"2015-08-03T12:00:00Z","g":0.1,"b":0.4,"p":0.2},{"t":"2015-08-04T12:00:00Z","g":0.3,"b":0.6,"p":0.3},{"t":"2015-08-05T12:00:00Z","g":0.2,"b":0.4,"p":0.2},{"t":"2015-08-06T12:00:00Z","g":0.5,"b":0.3,"p":0.4},{"t":"2015-08-07T12:00:00Z","g":0.1,"b":0.5,"p":0.2},{"t":"2015-08-08T12:00:00Z","g":0.3,"b":0.6,"p":0.3},{"t":"2015-08-09T12:00:00Z","g":0.6,"b":0.4,"p":0.4},{"t":"2015-08-10T12:00:00Z","g":0.2,"b":0.7,"p":0.3},{"t":"2015-08-11T12:00:00Z","g":0.7,"b":0.5,"p":0.5},{"t":"2015-08-12T12:00:00Z","g":0.1,"b":0.3,"p":0.3},{"t":"2015-08-13T12:00:00Z","g":0.4,"b":0.6,"p":0.4},{"t":"2015-08-14T12:00:00Z","g":0.5,"b":0.8,"p":0.6},{"t":"2015-08-15T12:00:00Z","g":0.2,"b":0.5,"p":0.4},{"t":"2015-08-16T12:00:00Z","g":0.3,"b":0.9,"p":0.5},{"t":"2015-08-17T12:00:00Z","g":0.6,"b":0.4,"p":0.3},{"t":"2015-08-18T12:00:00Z","g":0.8,"b":0.5,"p":0.5},{"t":"2015-08-19T12:00:00Z","g":0.2,"b":0.6,"p":0.6},{"t":"2015-08-20T12:00:00Z","g":0.1,"b":0.4,"p":0.4},{"t":"2015-08-21T12:00:00Z","g":0.5,"b":0.6,"p":0.9},{"t":"2015-08-22T12:00:00Z","g":0.3,"b":0.4,"p":0.5},{"t":"2015-08-23T12:00:00Z","g":0.2,"b":1.0,"p":0.6},{"t":"2015-08-24T12:00:00Z","g":0.4,"b":0.5,"p":0.4},{"t":"2015-08-25T12:00:00Z","g":0.1,"b":0.3,"p":0.5},{"t":"2015-08-26T12:00:00Z","g":0.2,"b":0.6,"p":0.3},{"t":"2015-08-27T12:00:00Z","g":0.4,"b":0.4,"p":0.4},{"t":"2015-08-28T12:00:00Z","g":0.5,"b":0.5,"p":0.5},{"t":"2015-08-29T12:00:00Z","g":0.2,"b":0.7,"p":0.4},{"t":"2015-08-30T12:00:00Z","g":0.7,"b":0.8,"p":0.7},{"t":"2015-08-31T12:00:00Z","g":0.1,"b":0.4,"p":0.3},
{"t":"2015-09-01T12:00:00Z","g":0.3,"b":0.5,"p":0.4},{"t":"2015-09-02T12:00:00Z","g":0.1,"b":0.3,"p":0.3},{"t":"2015-09-03T12:00:00Z","g":0.2,"b":0.4,"p":0.4},{"t":"2015-09-04T12:00:00Z","g":0.4,"b":0.3,"p":0.5},{"t":"2015-09-05T12:00:00Z","g":0.6,"b":0.6,"p":0.7},{"t":"2015-09-06T12:00:00Z","g":0.2,"b":0.4,"p":0.4},{"t":"2015-09-07T12:00:00Z","g":0.1,"b":0.2,"p":0.3},{"t":"2015-09-08T12:00:00Z","g":0.4,"b":0.5,"p":0.5},{"t":"2015-09-09T12:00:00Z","g":0.2,"b":0.4,"p":0.3},{"t":"2015-09-10T12:00:00Z","g":0.1,"b":0.6,"p":0.5},{"t":"2015-09-11T12:00:00Z","g":0.5,"b":0.3,"p":0.4},{"t":"2015-09-12T12:00:00Z","g":0.3,"b":0.5,"p":0.3},{"t":"2015-09-13T12:00:00Z","g":0.2,"b":0.2,"p":0.5},{"t":"2015-09-14T12:00:00Z","g":0.4,"b":0.6,"p":0.4},{"t":"2015-09-15T12:00:00Z","g":-0.2,"b":0.4,"p":0.3},{"t":"2015-09-16T12:00:00Z","g":0.3,"b":0.5,"p":0.5},{"t":"2015-09-17T12:00:00Z","g":0.6,"b":0.3,"p":0.4},{"t":"2015-09-18T12:00:00Z","g":0.3,"b":0.5,"p":0.6},{"t":"2015-09-19T12:00:00Z","g":0.1,"b":0.6,"p":0.3},{"t":"2015-09-20T12:00:00Z","g":0.5,"b":0.4,"p":0.8},{"t":"2015-09-21T12:00:00Z","g":0.2,"b":0.5,"p":0.4},{"t":"2015-09-22T12:00:00Z","g":0.1,"b":0.3,"p":0.3},{"t":"2015-09-23T12:00:00Z","g":0.4,"b":0.6,"p":0.5},{"t":"2015-09-24T12:00:00Z","g":0.6,"b":0.4,"p":0.6},{"t":"2015-09-25T12:00:00Z","g":0.2,"b":0.5,"p":0.4},{"t":"2015-09-26T12:00:00Z","g":0.1,"b":0.2,"p":0.5},{"t":"2015-09-27T12:00:00Z","g":0.5,"b":0.5,"p":0.9},{"t":"2015-09-28T12:00:00Z","g":0.3,"b":0.4,"p":0.5},{"t":"2015-09-29T12:00:00Z","g":0.1,"b":0.6,"p":0.6},{"t":"2015-09-30T12:00:00Z","g":0.4,"b":0.4,"p":0.4},
{"t":"2015-10-01T12:00:00Z","g":0.5,"b":0.6,"p":0.6},{"t":"2015-10-02T12:00:00Z","g":0.2,"b":0.7,"p":0.5},{"t":"2015-10-03T12:00:00Z","g":0.1,"b":0.5,"p":0.4},{"t":"2015-10-04T12:00:00Z","g":0.6,"b":1.0,"p":0.7},{"t":"2015-10-05T12:00:00Z","g":0.8,"b":0.7,"p":0.8},{"t":"2015-10-06T12:00:00Z","g":0.3,"b":0.4,"p":0.5},{"t":"2015-10-07T12:00:00Z","g":0.2,"b":0.6,"p":0.6},{"t":"2015-10-08T12:00:00Z","g":0.5,"b":0.7,"p":0.7},{"t":"2015-10-09T12:00:00Z","g":0.4,"b":0.5,"p":0.9},{"t":"2015-10-10T12:00:00Z","g":0.9,"b":0.6,"p":0.6},{"t":"2015-10-11T12:00:00Z","g":0.1,"b":0.4,"p":0.7},{"t":"2015-10-12T12:00:00Z","g":0.2,"b":0.6,"p":0.4},{"t":"2015-10-13T12:00:00Z","g":0.6,"b":0.5,"p":0.6},{"t":"2015-10-14T12:00:00Z","g":0.3,"b":0.7,"p":0.5},{"t":"2015-10-15T12:00:00Z","g":0.2,"b":0.4,"p":0.7},{"t":"2015-10-16T12:00:00Z","g":0.5,"b":0.6,"p":0.5},{"t":"2015-10-17T12:00:00Z","g":0.4,"b":0.7,"p":0.6},{"t":"2015-10-18T12:00:00Z","g":0.1,"b":0.4,"p":0.4},{"t":"2015-10-19T12:00:00Z","g":0.6,"b":0.5,"p":0.5},{"t":"2015-10-20T12:00:00Z","g":0.8,"b":0.7,"p":0.7},{"t":"2015-10-21T12:00:00Z","g":1.0,"b":0.5,"p":0.6},{"t":"2015-10-22T12:00:00Z","g":0.3,"b":0.6,"p":0.7},{"t":"2015-10-23T12:00:00Z","g":0.2,"b":0.4,"p":0.4},{"t":"2015-10-24T12:00:00Z","g":0.5,"b":0.6,"p":0.6},{"t":"2015-10-25T12:00:00Z","g":0.4,"b":0.5,"p":0.8},{"t":"2015-10-26T12:00:00Z","g":0.6,"b":0.7,"p":0.6},{"t":"2015-10-27T12:00:00Z","g":0.2,"b":0.4,"p":0.7},{"t":"2015-10-28T12:00:00Z","g":0.3,"b":0.6,"p":0.9},{"t":"2015-10-29T12:00:00Z","g":0.8,"b":0.4,"p":0.8},{"t":"2015-10-30T12:00:00Z","g":0.5,"b":0.7,"p":0.6},{"t":"2015-10-31T12:00:00Z","g":0.6,"b":0.5,"p":0.9},
{"t":"2015-11-01T12:00:00Z","g":0.9,"b":0.5,"p":1.2},{"t":"2015-11-02T12:00:00Z","g":0.2,"b":0.3,"p":0.9},{"t":"2015-11-03T12:00:00Z","g":0.1,"b":0.4,"p":0.5},{"t":"2015-11-04T12:00:00Z","g":0.4,"b":0.6,"p":0.6},{"t":"2015-11-05T12:00:00Z","g":0.2,"b":0.3,"p":0.4},{"t":"2015-11-06T12:00:00Z","g":0.3,"b":0.5,"p":0.5},{"t":"2015-11-07T12:00:00Z","g":1.2,"b":0.3,"p":0.3},{"t":"2015-11-08T12:00:00Z","g":0.9,"b":0.4,"p":0.2},{"t":"2015-11-09T12:00:00Z","g":0.1,"b":0.2,"p":0.2},{"t":"2015-11-10T12:00:00Z","g":0.2,"b":0.3,"p":0.1},{"t":"2015-11-11T12:00:00Z","g":0.3,"b":0.2,"p":0.2},{"t":"2015-11-12T12:00:00Z","g":0.1,"b":0.3,"p":0.1},{"t":"2015-11-13T12:00:00Z","g":0.2,"b":0.4,"p":0.2},{"t":"2015-11-14T12:00:00Z","g":0.1,"b":0.2,"p":0.1},{"t":"2015-11-15T12:00:00Z","g":0.2,"b":0.3,"p":0.3},{"t":"2015-11-16T12:00:00Z","g":0.3,"b":0.5,"p":0.2},{"t":"2015-11-17T12:00:00Z","g":0.0,"b":0.3,"p":0.3},{"t":"2015-11-18T12:00:00Z","g":0.1,"b":0.4,"p":0.1},{"t":"2015-11-19T12:00:00Z","g":0.2,"b":0.6,"p":0.4},{"t":"2015-11-20T12:00:00Z","g":0.4,"b":0.4,"p":0.8},{"t":"2015-11-21T12:00:00Z","g":0.1,"b":0.7,"p":0.3},{"t":"2015-11-22T12:00:00Z","g":0.2,"b":0.5,"p":0.9},{"t":"2015-11-23T12:00:00Z","g":0.3,"b":0.3,"p":0.3},{"t":"2015-11-24T12:00:00Z","g":0.4,"b":0.6,"p":0.4},{"t":"2015-11-25T12:00:00Z","g":0.1,"b":0.4,"p":0.2},{"t":"2015-11-26T12:00:00Z","g":0.0,"b":0.2,"p":0.3},{"t":"2015-11-27T12:00:00Z","g":0.3,"b":0.4,"p":0.1},{"t":"2015-11-28T12:00:00Z","g":0.1,"b":0.3,"p":0.2},{"t":"2015-11-29T12:00:00Z","g":0.4,"b":0.5,"p":0.4},{"t":"2015-11-30T12:00:00Z","g":0.1,"b":0.2,"p":0.2},
{"t":"2015-12-01T12:00:00Z","g":0.2,"b":0.4,"p":0.3},{"t":"2015-12-02T12:00:00Z","g":0.3,"b":0.2,"p":0.2},{"t":"2015-12-03T12:00:00Z","g":0.0,"b":0.3,"p":0.3},{"t":"2015-12-04T12:00:00Z","g":0.1,"b":0.5,"p":0.4},{"t":"2015-12-05T12:00:00Z","g":0.3,"b":0.2,"p":0.2},{"t":"2015-12-06T12:00:00Z","g":0.4,"b":0.4,"p":0.3},{"t":"2015-12-07T12:00:00Z","g":0.1,"b":0.6,"p":0.5},{"t":"2015-12-08T12:00:00Z","g":0.6,"b":0.3,"p":0.3},{"t":"2015-12-09T12:00:00Z","g":0.2,"b":0.5,"p":0.4},{"t":"2015-12-10T12:00:00Z","g":0.0,"b":0.1,"p":0.2},{"t":"2015-12-11T12:00:00Z","g":0.3,"b":0.4,"p":0.3},{"t":"2015-12-12T12:00:00Z","g":0.1,"b":0.7,"p":0.4},{"t":"2015-12-13T12:00:00Z","g":0.4,"b":0.3,"p":0.3},{"t":"2015-12-14T12:00:00Z","g":0.6,"b":0.5,"p":0.5},{"t":"2015-12-15T12:00:00Z","g":0.1,"b":0.2,"p":0.2},{"t":"2015-12-16T12:00:00Z","g":0.0,"b":0.4,"p":0.3},{"t":"2015-12-17T12:00:00Z","g":0.2,"b":0.1,"p":0.4},{"t":"2015-12-18T12:00:00Z","g":0.3,"b":0.3,"p":0.2},{"t":"2015-12-19T12:00:00Z","g":0.1,"b":0.2,"p":0.3},{"t":"2015-12-20T12:00:00Z","g":0.0,"b":0.4,"p":0.1},{"t":"2015-12-21T12:00:00Z","g":0.2,"b":0.3,"p":0.2},{"t":"2015-12-22T12:00:00Z","g":0.3,"b":0.1,"p":0.3},{"t":"2015-12-23T12:00:00Z","g":0.1,"b":0.3,"p":0.4},{"t":"2015-12-24T12:00:00Z","g":0.0,"b":0.2,"p":0.2},{"t":"2015-12-25T12:00:00Z","g":0.2,"b":0.4,"p":0.3},{"t":"2015-12-26T12:00:00Z","g":0.1,"b":0.1,"p":0.2},{"t":"2015-12-27T12:00:00Z","g":0.0,"b":0.5,"p":0.4},{"t":"2015-12-28T12:00:00Z","g":0.2,"b":0.3,"p":0.5},{"t":"2015-12-29T12:00:00Z","g":0.1,"b":0.2,"p":0.2},{"t":"2015-12-30T12:00:00Z","g":0.3,"b":0.4,"p":0.3},{"t":"2015-12-31T12:00:00Z","g":0.2,"b":0.1,"p":0.2}
]},
"transform":[{"fold":["g","b","p"],"as":["s","v"]}],
"encoding":{
"x":{"field":"t","type":"temporal","scale":{"type":"utc","domain":[{"year":2015,"month":1,"date":1,"utc":true},{"year":2016,"month":1,"date":1,"utc":true}]},
"axis":{"offset":-202,"values":[{"year":2015,"month":1,"date":1,"utc":true},{"year":2015,"month":2,"date":26,"utc":true},{"year":2015,"month":4,"date":23,"utc":true},{"year":2015,"month":6,"date":18,"utc":true},{"year":2015,"month":8,"date":13,"utc":true},{"year":2015,"month":10,"date":8,"utc":true},{"year":2015,"month":12,"date":3,"utc":true}],"format":"%d/%m/%y","labelFontSize":25,"labelColor":"black","domainColor":"black","domainWidth":1.5,"tickColor":"black","tickSize":5,"labelPadding":13,"grid":false,"title":null,"labelOverlap":false,"labelFlush":false}},
"y":{"field":"v","type":"quantitative","scale":{"domain":[-5,10],"nice":false,"zero":false},
"axis":{"values":[-5,0,5,10],"labelExpr":"'' + datum.value","grid":true,"gridColor":"#555555","gridWidth":1.5,"domainColor":"#333333","domainWidth":2,"tickColor":"#333333","tickSize":8,"tickWidth":1.5,"labelFontSize":25,"labelPadding":13,"labelColor":"black","title":"µg.m⁻³","titleFontSize":26,"titleFontWeight":"bold","titleColor":"black","titlePadding":0}},
"color":{"field":"s","type":"nominal","scale":{"domain":["g","b","p","z"],"range":["#00FF00","#1F74C6","#FF00FF","#FFFFFF"]},
"legend":{"orient":"none","legendX":-39,"legendY":648,"direction":"horizontal","title":"\u00a0","titleOrient":"left","titleFontSize":26,"titleAnchor":"start","titlePadding":52,"strokeColor":"#222222","fillColor":"white","padding":0,"symbolType":"M-1,-0.9M-1,0.9M-1,0H1","symbolSize":2704,"symbolStrokeWidth":2,"symbolFillColor":"transparent","labelFontSize":27,"labelColor":"black","labelLimit":600,"labelOffset":7,"columnPadding":42,
"labelExpr":"datum.label == 'g' ? 'Birmingham Tyburn RS' : datum.label == 'b' ? 'Cardiff Centre' : datum.label == 'p' ? 'Birmingham Tyburn BK' : ''"}}
},
"layer":[
{"transform":[{"filter":"datum.s === 'g'"}],"mark":{"type":"line","strokeWidth":1.1}},
{"transform":[{"filter":"datum.s === 'b'"}],"mark":{"type":"line","strokeWidth":1.1}},
{"transform":[{"filter":"datum.s === 'p'"}],"mark":{"type":"line","strokeWidth":1.1}}
]
}
